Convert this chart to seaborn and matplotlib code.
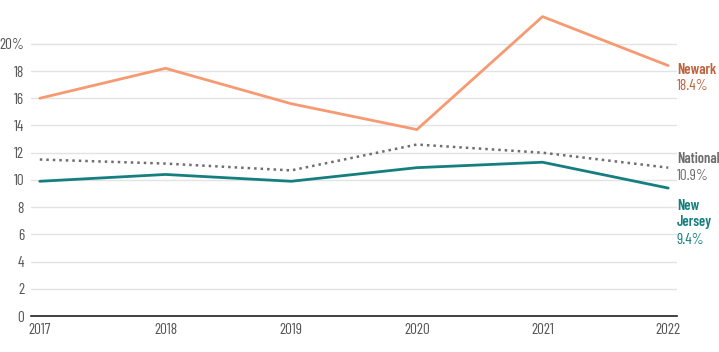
import pandas as pd
import numpy as np
import seaborn as sns
import matplotlib.pyplot as plt

# values (percent)
years = [2017, 2018, 2019, 2020, 2021, 2022]
newark = [16.0, 18.2, 15.6, 13.7, 22.0, 18.4]
national = [11.5, 11.2, 10.7, 12.6, 12.0, 10.9]
new_jersey = [9.9, 10.4, 9.9, 10.9, 11.3, 9.4]
y_ticks = [0, 2, 4, 6, 8, 10, 12, 14, 16, 18, 20]
y_labels = ["0", "2", "4", "6", "8", "10", "12", "14", "16", "18", "20%"]

sns.set_style("white")
plt.rcParams['font.family'] = ['Barlow Condensed', 'DejaVu Sans']

df = pd.DataFrame({"year": years, "Newark": newark,
                   "National": national, "New Jersey": new_jersey})

fig = plt.figure(figsize=(7.19, 3.52), dpi=100)
ax = fig.add_axes([31 / 719, 36 / 352, (677 - 31) / 719, 313 / 352])

sns.lineplot(data=df, x="year", y="Newark", color="#f79a72", lw=2, ax=ax)
sns.lineplot(data=df, x="year", y="National", color="#6e6e6e", lw=1.8,
             linestyle=(0, (1, 1.6)), ax=ax)
sns.lineplot(data=df, x="year", y="New Jersey", color="#157f80", lw=2, ax=ax)

ax.set_xlim(2016.93, 2022.07)
ax.set_ylim(0, 23)
ax.set_yticks(y_ticks)
ax.set_yticklabels(y_labels)
ax.set_xticks(years)
ax.set_xticklabels([str(y) for y in years])
ax.grid(axis="y", color="#e3e3e3", lw=1)
ax.set_axisbelow(True)
ax.tick_params(length=0, labelsize=11, labelcolor="#555555", pad=5)
ax.set_xlabel("")
ax.set_ylabel("")
for s in ["top", "right", "left"]:
    ax.spines[s].set_visible(False)
ax.spines["bottom"].set_color("#222222")
ax.spines["bottom"].set_linewidth(1.2)

# end labels, offsets in points from the last value of each line


def end_label(txt, y, dy, color, bold):
    ax.annotate(txt, (years[-1], y), xytext=(6.2, dy), textcoords="offset points",
                color=color, fontsize=10.5 if bold else 11, va="center", ha="left",
                fontweight="semibold" if bold else "normal",
                annotation_clip=False)


end_label("Newark", newark[-1], -3, "#c0623a", True)
end_label(f"{newark[-1]}%", newark[-1], -14.5, "#c0623a", False)
end_label("National", national[-1], 6.3, "#6e6e6e", True)
end_label(f"{national[-1]}%", national[-1], -5.8, "#6e6e6e", False)
end_label("New", new_jersey[-1], -13, "#157f80", True)
end_label("Jersey", new_jersey[-1], -24.5, "#157f80", True)
end_label(f"{new_jersey[-1]}%", new_jersey[-1], -37.4, "#157f80", False)

plt.savefig("out.png", dpi=100)
